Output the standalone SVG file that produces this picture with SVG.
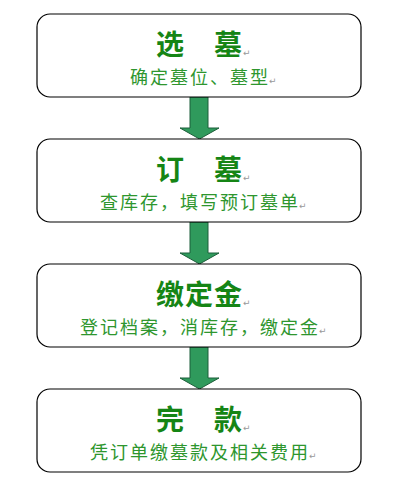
<svg xmlns="http://www.w3.org/2000/svg" width="406" height="500" viewBox="0 0 406 500">
<style>
.box{fill:#ffffff;stroke:#000000;stroke-width:1.2}
.t{font-family:"Noto Sans CJK SC",sans-serif;font-size:28px;font-weight:bold;fill:#158515;text-anchor:middle;letter-spacing:1px}
.s{font-family:"Noto Sans CJK SC",sans-serif;font-size:18px;fill:#2e962e;text-anchor:middle;letter-spacing:2px}
.r{font-family:"DejaVu Sans",sans-serif;font-size:9px;fill:#999999}
.arr{fill:#2f9a5c;stroke:#1d5e3a;stroke-width:1}
</style>
<rect width="406" height="500" fill="#ffffff"/>
<g id="connectors">
<path class="arr" d="M190,97 L208,97 L208,128 L219,128 L199.5,139 L180,128 L190,128 Z"/>
<path class="arr" d="M190,222 L208,222 L208,253 L219,253 L199.5,264 L180,253 L190,253 Z"/>
<path class="arr" d="M190,347 L208,347 L208,378 L219,378 L199.5,389 L180,378 L190,378 Z"/>
</g>
<g id="node1">
<rect class="box" x="37" y="14" width="324" height="83" rx="13"/>
<text class="t" x="199.5" y="55">选　墓</text>
<text class="r" x="243" y="56">↵</text>
<text class="s" x="200" y="84">确定墓位、墓型</text>
<text class="r" x="269" y="84">↵</text>
</g>
<g id="node2">
<rect class="box" x="37" y="139" width="324" height="83" rx="13"/>
<text class="t" x="199.5" y="180">订　墓</text>
<text class="r" x="243" y="181">↵</text>
<text class="s" x="200" y="209">查库存，填写预订墓单</text>
<text class="r" x="299" y="209">↵</text>
</g>
<g id="node3">
<rect class="box" x="37" y="264" width="324" height="83" rx="13"/>
<text class="t" x="199.5" y="305">缴定金</text>
<text class="r" x="243" y="306">↵</text>
<text class="s" x="200" y="334">登记档案，消库存，缴定金</text>
<text class="r" x="319" y="334">↵</text>
</g>
<g id="node4">
<rect class="box" x="37" y="389" width="324" height="83" rx="13"/>
<text class="t" x="199.5" y="430">完　款</text>
<text class="r" x="243" y="431">↵</text>
<text class="s" x="200" y="459">凭订单缴墓款及相关费用</text>
<text class="r" x="309" y="459">↵</text>
</g>
</svg>
